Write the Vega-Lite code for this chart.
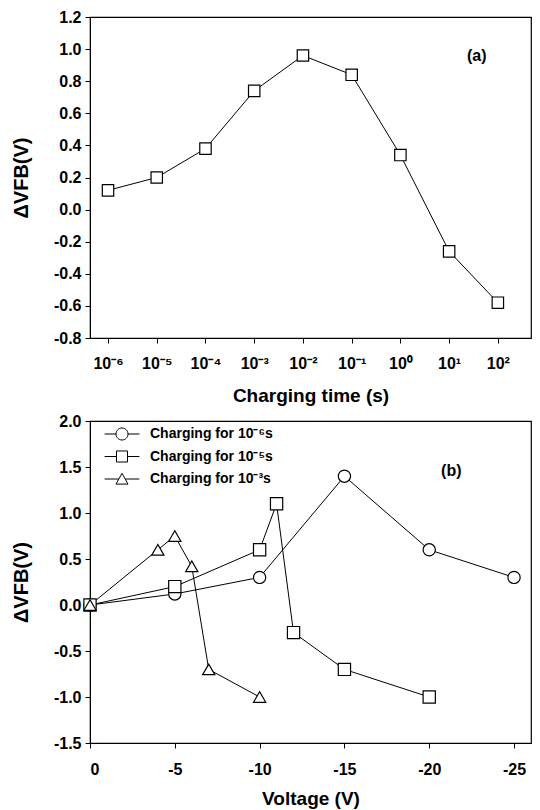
{
  "$schema": "https://vega.github.io/schema/vega-lite/v6.json",
  "background": "white",
  "padding": {"left": 10, "top": 8, "right": 4, "bottom": 0},
  "spacing": 6,
  "config": {
    "font": "Liberation Sans",
    "view": {"stroke": "black", "strokeWidth": 1.2},
    "axis": {
      "labelFont": "Liberation Sans",
      "labelFontSize": 16,
      "labelFontWeight": "bold",
      "labelColor": "black",
      "titleFont": "Liberation Sans",
      "titleFontSize": 19,
      "titleFontWeight": "bold",
      "titleColor": "black",
      "domainColor": "black",
      "tickColor": "black",
      "tickSize": 5,
      "grid": false,
      "labelPadding": 4
    }
  },
  "vconcat": [
    {
      "width": 441,
      "height": 321,
      "data": {
        "values": [
          {"time": 1e-6, "dvfb": 0.12},
          {"time": 1e-5, "dvfb": 0.20},
          {"time": 1e-4, "dvfb": 0.38},
          {"time": 1e-3, "dvfb": 0.74},
          {"time": 1e-2, "dvfb": 0.96},
          {"time": 1e-1, "dvfb": 0.84},
          {"time": 1, "dvfb": 0.34},
          {"time": 10, "dvfb": -0.26},
          {"time": 100, "dvfb": -0.58}
        ]
      },
      "encoding": {
        "x": {
          "field": "time",
          "type": "quantitative",
          "scale": {"type": "log", "domain": [4.27e-7, 478.6], "nice": false},
          "axis": {
            "title": "Charging time (s)",
            "values": [1e-6, 1e-5, 1e-4, 1e-3, 1e-2, 1e-1, 1, 10, 100],
            "labelExpr": "['10⁻⁶','10⁻⁵','10⁻⁴','10⁻³','10⁻²','10⁻¹','10⁰','10¹','10²'][round(log(datum.value)/LN10)+6]",
            "labelPadding": 12,
            "titlePadding": 15
          }
        },
        "y": {
          "field": "dvfb",
          "type": "quantitative",
          "scale": {"domain": [-0.8, 1.2], "nice": false, "zero": false},
          "axis": {
            "title": "ΔVFB(V)",
            "titleFontSize": 20,
            "values": [-0.8, -0.6, -0.4, -0.2, 0, 0.2, 0.4, 0.6, 0.8, 1.0, 1.2],
            "labelExpr": "(datum.value < 0 ? '-' : '') + format(abs(datum.value), '.1f')",
            "labelOverlap": false,
            "titlePadding": 22
          }
        }
      },
      "layer": [
        {"mark": {"type": "line", "color": "black", "strokeWidth": 1}},
        {
          "mark": {"type": "point", "shape": "square", "size": 130, "filled": true, "fill": "white", "stroke": "black", "strokeWidth": 1.2, "opacity": 1}
        },
        {
          "transform": [{"filter": "datum.time == 100"}],
          "mark": {"type": "text", "font": "Liberation Sans", "fontSize": 16, "fontWeight": "bold", "fill": "black"},
          "encoding": {
            "x": {"datum": 37},
            "y": {"datum": 0.96},
            "text": {"value": "(a)"}
          }
        }
      ]
    },
    {
      "width": 441,
      "height": 322,
      "data": {
        "values": [
          {"series": "Charging for 10⁻⁶s", "voltage": 0, "dvfb": 0},
          {"series": "Charging for 10⁻⁶s", "voltage": -5, "dvfb": 0.12},
          {"series": "Charging for 10⁻⁶s", "voltage": -10, "dvfb": 0.3},
          {"series": "Charging for 10⁻⁶s", "voltage": -15, "dvfb": 1.4},
          {"series": "Charging for 10⁻⁶s", "voltage": -20, "dvfb": 0.6},
          {"series": "Charging for 10⁻⁶s", "voltage": -25, "dvfb": 0.3},
          {"series": "Charging for 10⁻⁵s", "voltage": 0, "dvfb": 0},
          {"series": "Charging for 10⁻⁵s", "voltage": -5, "dvfb": 0.2},
          {"series": "Charging for 10⁻⁵s", "voltage": -10, "dvfb": 0.6},
          {"series": "Charging for 10⁻⁵s", "voltage": -11, "dvfb": 1.1},
          {"series": "Charging for 10⁻⁵s", "voltage": -12, "dvfb": -0.3},
          {"series": "Charging for 10⁻⁵s", "voltage": -15, "dvfb": -0.7},
          {"series": "Charging for 10⁻⁵s", "voltage": -20, "dvfb": -1.0},
          {"series": "Charging for 10⁻³s", "voltage": 0, "dvfb": 0},
          {"series": "Charging for 10⁻³s", "voltage": -4, "dvfb": 0.6},
          {"series": "Charging for 10⁻³s", "voltage": -5, "dvfb": 0.75},
          {"series": "Charging for 10⁻³s", "voltage": -6, "dvfb": 0.42},
          {"series": "Charging for 10⁻³s", "voltage": -7, "dvfb": -0.7},
          {"series": "Charging for 10⁻³s", "voltage": -10, "dvfb": -1.0}
        ]
      },
      "encoding": {
        "x": {
          "field": "voltage",
          "type": "quantitative",
          "scale": {"domain": [-26, 0], "reverse": true, "nice": false, "zero": false},
          "axis": {
            "title": "Voltage (V)",
            "values": [0, -5, -10, -15, -20, -25],
            "labelExpr": "(datum.value < 0 ? '-' : '') + abs(datum.value)",
            "labelPadding": 13,
            "titlePadding": 12
          }
        },
        "y": {
          "field": "dvfb",
          "type": "quantitative",
          "scale": {"domain": [-1.5, 2.0], "nice": false, "zero": false},
          "axis": {
            "title": "ΔVFB(V)",
            "titleFontSize": 20,
            "values": [-1.5, -1.0, -0.5, 0, 0.5, 1.0, 1.5, 2.0],
            "labelExpr": "(datum.value < 0 ? '-' : '') + format(abs(datum.value), '.1f')",
            "labelOverlap": false,
            "titlePadding": 22
          }
        }
      },
      "resolve": {"scale": {"shape": "independent"}},
      "layer": [
        {
          "mark": {"type": "line", "color": "black", "strokeWidth": 1},
          "encoding": {"detail": {"field": "series", "type": "nominal"}}
        },
        {
          "mark": {"type": "point", "size": 150, "filled": true, "fill": "white", "stroke": "black", "strokeWidth": 1.2, "opacity": 1},
          "encoding": {
            "shape": {
              "field": "series",
              "type": "nominal",
              "scale": {
                "domain": ["Charging for 10⁻⁶s", "Charging for 10⁻⁵s", "Charging for 10⁻³s"],
                "range": ["circle", "square", "triangle-up"]
              },
              "legend": null
            }
          }
        },
        {
          "transform": [{"filter": "false"}],
          "mark": {"type": "point", "size": 144, "filled": false, "stroke": "black", "strokeWidth": 1},
          "encoding": {
            "shape": {
              "field": "series",
              "type": "nominal",
              "scale": {
                "domain": ["Charging for 10⁻⁶s", "Charging for 10⁻⁵s", "Charging for 10⁻³s"],
                "range": [
                  "M-2.9,0H-1M1,0H2.9M-1,0A1,1,0,1,0,1,0A1,1,0,1,0,-1,0Z",
                  "M-2.9,0H-0.92M0.92,0H2.9M-0.92,-0.92H0.92V0.92H-0.92Z",
                  "M-2.9,0H-0.53M0.53,0H2.9M0,-0.95L1,0.85H-1Z"
                ]
              },
              "legend": {
                "title": null,
                "orient": "none",
                "legendX": 25,
                "legendY": 6,
                "padding": 0,
                "symbolSize": 144,
                "symbolFillColor": "white",
                "symbolStrokeColor": "black",
                "symbolStrokeWidth": 1,
                "symbolOpacity": 1,
                "labelFont": "Liberation Sans",
                "labelFontSize": 14,
                "labelFontWeight": "bold",
                "labelColor": "black",
                "labelOffset": 21,
                "rowPadding": 6.5
              }
            }
          }
        },
        {
          "transform": [{"filter": "datum.voltage == -25"}],
          "mark": {"type": "text", "font": "Liberation Sans", "fontSize": 16, "fontWeight": "bold", "fill": "black"},
          "encoding": {
            "x": {"datum": -21.3},
            "y": {"datum": 1.46},
            "text": {"value": "(b)"}
          }
        }
      ]
    }
  ]
}
